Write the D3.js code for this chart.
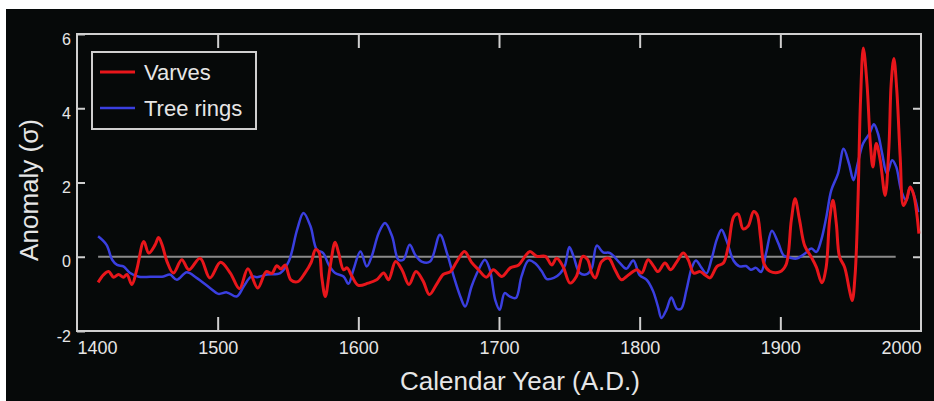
<!DOCTYPE html>
<html>
<head>
<meta charset="utf-8">
<script src="https://cdn.jsdelivr.net/npm/d3@7"></script>
<style>
  body { margin: 0; background: #fff; }
  text { font-family: "Liberation Sans", Arial, Helvetica, sans-serif; fill: #e6e6e6; }
</style>
</head>
<body>
<svg id="chart"></svg>
<script>
// varve record (red)
const varveYears = [1415, 1419, 1422.5, 1426, 1429.5, 1433, 1435.5, 1439, 1442.5, 1447.5, 1451, 1455.5, 1458, 1460.5, 1464, 1468.5,
    1474.5, 1479.5, 1487.5, 1494.5, 1502, 1509, 1515.5, 1521.5, 1528.5, 1534.5, 1538.5, 1542, 1545, 1548, 1552, 1557, 1562,
    1566.5, 1569.5, 1572, 1574, 1576.5, 1580, 1583.5, 1586, 1589.5, 1592, 1595.5, 1600, 1607, 1613, 1618, 1621.5, 1626.5,
    1631, 1636, 1641, 1646, 1650.5, 1655.5, 1660.5, 1665.5, 1670, 1675.5, 1680.5, 1685.5, 1691, 1696, 1702, 1708, 1714,
    1718.5, 1722, 1727, 1733, 1737.5, 1741, 1745.5, 1750.5, 1755, 1759.5, 1763, 1766, 1768.5, 1773, 1778, 1782.5, 1787,
    1792, 1798, 1801.5, 1806, 1810, 1813, 1818, 1822, 1826.5, 1831, 1834.5, 1838.5, 1843, 1846.5, 1850, 1855, 1859.5, 1863,
    1867, 1870, 1873.5, 1877, 1881, 1883.5, 1886, 1888.5, 1892.5, 1899.5, 1904, 1907.8, 1910.5, 1913.7, 1917.3, 1922,
    1925.6, 1929.5, 1932.5, 1935, 1937.4, 1939.8, 1942.1, 1945.7, 1949.2, 1951.1, 1953.2, 1955.2, 1957, 1959, 1961.6,
    1964, 1965.8, 1968.2, 1971, 1974.5, 1977.2, 1978.8, 1980.7, 1982.8, 1985.2, 1987.5, 1989.9, 1992.3, 1994.6, 1997, 1998.5];
const varveValues = [-0.69, -0.48, -0.40, -0.55, -0.48, -0.55, -0.48, -0.75, -0.35, 0.41, 0.10, 0.32, 0.52, 0.32, -0.13, -0.44,
    -0.08, -0.35, -0.04, -0.57, -0.15, -0.44, -0.86, -0.32, -0.84, -0.40, -0.45, -0.24, -0.33, -0.22, -0.62, -0.67, -0.44,
    -0.15, 0.19, 0.12, -0.55, -1.07, -0.26, 0.39, 0.10, -0.35, -0.30, -0.53, -0.77, -0.71, -0.62, -0.44, -0.62, -0.13,
    -0.35, -0.75, -0.40, -0.65, -1.02, -0.75, -0.47, -0.40, -0.13, 0.14, -0.15, -0.35, -0.55, -0.35, -0.53, -0.30, -0.22,
    0.01, 0.14, 0.01, 0.01, -0.22, -0.04, -0.26, -0.71, -0.53, 0.01, -0.08, -0.45, -0.57, -0.13, -0.04, -0.35, -0.62,
    -0.49, -0.35, -0.44, -0.08, -0.26, -0.40, -0.17, -0.35, -0.13, 0.10, -0.08, -0.44, -0.40, -0.49, -0.57, -0.26, -0.17, 0.28,
    1.09, 1.15, 0.75, 0.82, 1.22, 1.13, 0.50, -0.20, -0.39, -0.41, -0.22, 0.98, 1.56, 0.98, 0.30, -0.01,
    -0.28, -0.70, -0.30, 0.98, 1.52, 0.89, 0.00, -0.28, -0.91, -1.18, -0.46, 1.52, 4.21, 5.62, 4.66,
    3.05, 2.42, 3.05, 2.60, 1.65, 2.96, 4.66, 5.34, 4.48, 2.69, 1.38, 1.56, 1.88, 1.70, 1.16, 0.62];

// tree ring record (blue)
const ringYears = [1415, 1421, 1425, 1428.5, 1433, 1437.5, 1444, 1452, 1461.5, 1466, 1471, 1478, 1485, 1494.5, 1500.5, 1506.5,
    1513.5, 1518.5, 1524, 1528, 1535, 1544.5, 1550.5, 1556.5, 1561, 1566, 1570.5, 1575, 1579, 1583.5, 1589.5, 1593, 1596.5,
    1601.5, 1606, 1609.5, 1614.5, 1619, 1624, 1628.5, 1632, 1636.5, 1640.5, 1645, 1651, 1658, 1663, 1667.5, 1672.5, 1676,
    1680.5, 1685.5, 1690, 1693.5, 1697.3, 1700.5, 1704, 1707.5, 1712, 1716, 1721, 1725.5, 1730.5, 1734, 1739, 1743.5, 1747,
    1750, 1753, 1757.5, 1762.5, 1766, 1769.5, 1774, 1779, 1785.5, 1790.5, 1795.5, 1800, 1805, 1809.5, 1813, 1815.5, 1819,
    1822.5, 1826.5, 1829.5, 1833.3, 1837, 1840, 1844, 1847.5, 1851, 1854.8, 1858.2, 1861.9, 1866.7, 1871, 1875.6, 1879,
    1882.7, 1886.3, 1890, 1894, 1898.6, 1902.5, 1906.7, 1911.4, 1917.3, 1922, 1925.6, 1929, 1932.7, 1936.2, 1941, 1945,
    1948.8, 1952, 1955, 1958.8, 1963.4, 1966.5, 1969.4, 1972.4, 1975.8, 1979.5, 1982.4, 1985.9, 1989.5, 1992.3, 1995.4, 1998];
const ringValues = [0.55, 0.32, -0.08, -0.22, -0.26, -0.43, -0.54, -0.54, -0.53, -0.48, -0.62, -0.42, -0.57, -0.84, -1.00, -0.96,
    -1.07, -0.80, -0.53, -0.55, -0.48, -0.44, -0.13, 0.73, 1.18, 0.82, 0.19, 0.10, -0.22, -0.44, -0.53, -0.73, -0.35,
    0.14, -0.26, 0.01, 0.64, 0.91, 0.55, -0.08, -0.08, 0.32, 0.05, -0.13, -0.13, 0.59, 0.10, -0.49, -1.07, -1.34,
    -0.80, -0.35, -0.08, -0.35, -1.16, -1.43, -0.98, -1.07, -1.11, -0.53, -0.10, -0.17, -0.40, -0.60, -0.57, -0.45, -0.22,
    0.26, 0.01, -0.44, -0.47, -0.30, 0.30, 0.12, 0.10, -0.15, -0.32, -0.10, -0.50, -0.62, -0.92, -1.34, -1.65, -1.43,
    -1.10, -1.40, -1.40, -0.89, -0.30, -0.10, -0.30, -0.45, -0.08, 0.46, 0.73, 0.42, -0.10, -0.26, -0.25, -0.35,
    -0.30, -0.41, 0.12, 0.70, 0.36, 0.03, -0.02, -0.05, 0.08, 0.22, 0.13, 0.44, 1.07, 1.79, 2.24, 2.91,
    2.51, 2.06, 2.51, 3.05, 3.32, 3.57, 3.32, 2.78, 2.24, 2.60, 2.42, 1.79, 1.52, 1.88, 1.61, 1.20];

const xTicks = [1400, 1500, 1600, 1700, 1800, 1900, 2000];
const yTicks = [-2, 0, 2, 4, 6];
const zeroSpan = [1415, 1982];
const seriesNames = ["Varves", "Tree rings"];

class AnomalyChart {
    constructor(_config) {
        this.config = {
            parentElement: _config.parentElement,
            containerWidth: _config.containerWidth || 934,
            containerHeight: _config.containerHeight || 401,
        }
        this.config.margin = _config.margin || { top: 34, bottom: 70, right: 13, left: 77 }
        this.initVis();
    }

    initVis() {
        let vis = this;
        let m = vis.config.margin;
        vis.width = vis.config.containerWidth - m.left - m.right;
        vis.height = vis.config.containerHeight - m.top - m.bottom;

        let svg = d3.select(vis.config.parentElement)
            .attr("width", vis.config.containerWidth)
            .attr("height", vis.config.containerHeight);

        // black panel of the figure
        svg.append("rect")
            .attr("x", 6).attr("y", 9)
            .attr("width", vis.config.containerWidth - 6)
            .attr("height", vis.config.containerHeight - 9)
            .attr("fill", "#060909");

        vis.chart = svg.append("g").attr("transform", `translate(${m.left},${m.top})`);

        vis.xScale = d3.scaleLinear().domain([1400, 2000]).range([0, vis.width]);
        vis.yScale = d3.scaleLinear().domain([-2, 6]).range([vis.height, 0]);

        vis.chart.append("text")
            .attr("x", 443).attr("y", vis.height + 59)
            .attr("text-anchor", "middle")
            .attr("font-size", 26)
            .text("Calendar Year (A.D.)");

        vis.chart.append("text")
            .attr("transform", `translate(-39,${156}) rotate(-90)`)
            .attr("text-anchor", "middle")
            .attr("font-size", 26)
            .text("Anomaly (σ)");
    }

    update() {
        let vis = this;
        vis.varves = varveYears.map((y, i) => ({ year: y, value: varveValues[i] }));
        vis.rings = ringYears.map((y, i) => ({ year: y, value: ringValues[i] }));
        vis.render();
    }

    render() {
        let vis = this;
        let grey = "#cfcfcf";

        // zero reference line
        vis.chart.append("line")
            .attr("x1", vis.xScale(zeroSpan[0])).attr("x2", vis.xScale(zeroSpan[1]))
            .attr("y1", vis.yScale(0)).attr("y2", vis.yScale(0))
            .attr("stroke", "#8a8a8a").attr("stroke-width", 2);

        // axes (ticks point inward)
        let bottom = vis.chart.append("g").attr("transform", `translate(0,${vis.height})`)
            .call(d3.axisBottom(vis.xScale).tickValues(xTicks).tickSize(-14).tickPadding(10).tickFormat(d3.format("d")));
        bottom.selectAll("text")
            .attr("text-anchor", d => d === 1400 ? "start" : d === 2000 ? "end" : "middle")
            .attr("font-size", 18);
        bottom.selectAll(".tick line").filter(d => d === 1400 || d === 2000).remove();

        vis.chart.append("g")
            .call(d3.axisTop(vis.xScale).tickValues(xTicks.slice(1, -1)).tickSize(-14).tickFormat(""));

        let left = vis.chart.append("g")
            .call(d3.axisLeft(vis.yScale).tickValues(yTicks).tickSize(-8).tickPadding(6)
                .tickFormat(d => d < 0 ? "-" + Math.abs(d) : d));
        left.selectAll("text").attr("font-size", 16).attr("y", 5);

        vis.chart.append("g").attr("transform", `translate(${vis.width},0)`)
            .call(d3.axisRight(vis.yScale).tickValues(yTicks.slice(1, -1)).tickSize(-8).tickFormat(""));

        vis.chart.selectAll(".domain").remove();
        vis.chart.selectAll(".tick line").attr("stroke", grey).attr("stroke-width", 2);
        vis.chart.selectAll(".tick text").attr("fill", "#e6e6e6").attr("font-family", "Liberation Sans, Arial, sans-serif");

        // frame
        vis.chart.append("rect")
            .attr("width", vis.width).attr("height", vis.height)
            .attr("fill", "none").attr("stroke", grey).attr("stroke-width", 2);

        let line = d3.line()
            .x(d => vis.xScale(d.year))
            .y(d => vis.yScale(d.value))
            .curve(d3.curveCatmullRom.alpha(0.5));

        vis.chart.append("path").datum(vis.rings)
            .attr("d", line).attr("fill", "none")
            .attr("stroke", "#3a3fe0").attr("stroke-width", 2.5);

        vis.chart.append("path").datum(vis.varves)
            .attr("d", line).attr("fill", "none")
            .attr("stroke", "#e8161b").attr("stroke-width", 3);

        // legend
        let legend = vis.chart.append("g").attr("transform", "translate(15,18)");
        legend.append("rect")
            .attr("width", 164).attr("height", 77)
            .attr("fill", "#060909").attr("stroke", grey).attr("stroke-width", 2);
        let colors = ["#e8161b", "#3a3fe0"];
        seriesNames.forEach((name, i) => {
            let y = 20 + i * 36;
            legend.append("line")
                .attr("x1", 8).attr("x2", 43).attr("y1", y).attr("y2", y)
                .attr("stroke", colors[i]).attr("stroke-width", i === 0 ? 3 : 2.5);
            legend.append("text")
                .attr("x", 52).attr("y", y + 8)
                .attr("font-size", 22)
                .text(name);
        });
    }
}

let chart = new AnomalyChart({ parentElement: "#chart" });
chart.update();
</script>
</body>
</html>
